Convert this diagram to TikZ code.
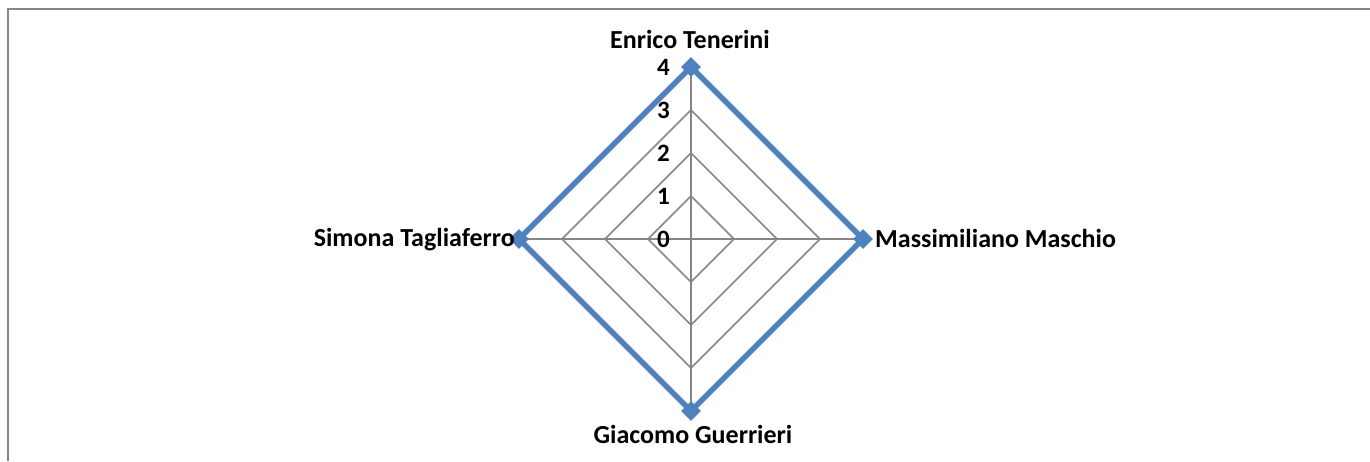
\documentclass[tikz,border=0pt]{standalone}
\usepackage{fontspec}
\setmainfont{Carlito}
\usetikzlibrary{shapes.geometric}
\definecolor{seriesblue}{RGB}{79,129,189}
\definecolor{gridgray}{RGB}{134,134,134}
\tikzset{
  gridline/.style={gridgray, line width=1.5pt},
  seriesline/.style={seriesblue, line width=5.5pt, line join=miter},
  datamark/.style={diamond, fill=seriesblue, inner sep=0pt, minimum size=20pt},
  catlabel/.style={font=\bfseries\fontsize{26}{26}\selectfont, inner sep=0pt},
  vallabel/.style={font=\bfseries\fontsize{25}{25}\selectfont, inner sep=0pt, anchor=base east}
}
\begin{document}
\begin{tikzpicture}[x=1pt,y=-1pt]
\useasboundingbox (0,0) rectangle (1370,461);
%frame of the chart area
\draw[gridline] (8,461) -- (8,9) -- (1370,9);
%web of the radar
\foreach \r in {43,86,129,172}
  \draw[gridline] (691,239-\r) -- (691+\r,239) -- (691,239+\r) -- (691-\r,239) -- cycle;
\draw[gridline] (691,67) -- (691,411);
\draw[gridline] (519,239) -- (863,239);
%axis values
\foreach \v/\y in {0/239,1/196,2/153,3/110,4/67}
  \node[vallabel] (val\v) at (670,\y+8) {\v};
%series
\coordinate (et) at (691,67);
\coordinate (mm) at (863,239);
\coordinate (gg) at (691,411);
\coordinate (st) at (519,239);
\draw[seriesline] (et) -- (mm) -- (gg) -- (st) -- cycle;
\foreach \p in {et,mm,gg,st}
  \node[datamark] (mark\p) at (\p) {};
%categories
\node[catlabel, anchor=base] (etlabel) at (690,48) {Enrico Tenerini};
\node[catlabel, anchor=base west] (mmlabel) at (875,247) {Massimiliano Maschio};
\node[catlabel, anchor=base] (gglabel) at (693,443) {Giacomo Guerrieri};
\node[catlabel, anchor=base east] (stlabel) at (515,246) {Simona Tagliaferro};
\end{tikzpicture}
\end{document}
